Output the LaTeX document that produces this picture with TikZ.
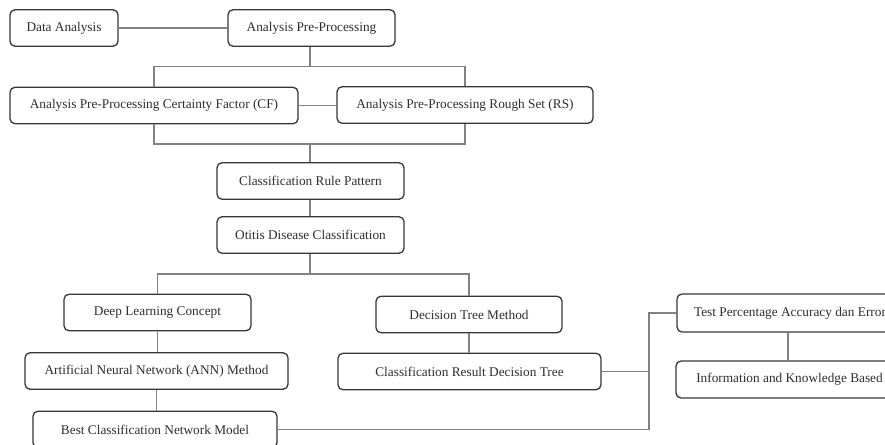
\documentclass[tikz,border=0pt]{standalone}
\usepackage{fontspec}
\setmainfont{Liberation Serif}
\usetikzlibrary{calc}
\definecolor{boxline}{HTML}{363636}
\definecolor{conn}{HTML}{828282}
\definecolor{txt}{HTML}{2E2E2E}
\begin{document}
\begin{tikzpicture}[x=1pt,y=-1pt,
  box/.style={draw=boxline,line width=1.3pt,rounded corners=5pt,fill=white,
    minimum height=36.5pt,inner sep=0pt,text=txt,
    font=\fontsize{13.3}{15}\selectfont},
  wire/.style={draw=conn,line width=1.2pt}]
\clip (0,0) rectangle (885,444);
\fill[white] (0,0) rectangle (885,444);
% nodes
\node[box,minimum width=108pt] (da) at (64,28) {Data Analysis};
\node[box,minimum width=167pt] (app) at (311.5,28) {Analysis Pre-Processing};
\node[box,minimum width=288pt] (cf) at (154,105.5) {Analysis Pre-Processing Certainty Factor (CF)};
\node[box,minimum width=256pt] (rs) at (465,105) {Analysis Pre-Processing Rough Set (RS)};
\node[box,minimum width=187pt] (crp) at (310.5,181) {Classification Rule Pattern};
\node[box,minimum width=187pt] (odc) at (310.5,235) {Otitis Disease Classification};
\node[box,minimum width=187pt] (dlc) at (157.5,312.5) {Deep Learning Concept};
\node[box,minimum width=263pt] (ann) at (156.5,371) {Artificial Neural Network (ANN) Method};
\node[box,minimum width=244pt] (best) at (155,429.5) {Best Classification Network Model};
\node[box,minimum width=186pt] (dtm) at (469,314.5) {Decision Tree Method};
\node[box,minimum width=263pt] (crdt) at (469.5,371.5) {Classification Result Decision Tree};
\node[box,minimum width=226pt,minimum height=38pt] (test) at (790,313) {Test Percentage Accuracy dan Error};
\node[box,minimum width=227pt,minimum height=37pt] (info) at (789.5,379.5) {Information and Knowledge Based};
% junctions
\coordinate (j1) at (310,66.5);
\coordinate (j2) at (310,144);
\coordinate (j3) at (310,274);
\coordinate (j4) at (649,313);
% connectors
\begin{scope}[on background layer/.try]
\end{scope}
\draw[wire] (da.east) -- (app.west);
\draw[wire] (app.south -| j1) -- (j1);
\draw[wire] (cf.north) |- (j1) -| (rs.north);
\draw[wire] (cf.east) -- (cf.east -| rs.west);
\draw[wire] (cf.south) |- (j2) -| (rs.south);
\draw[wire] (j2) -- (crp.north -| j2);
\draw[wire] (crp.south -| j2) -- (odc.north -| j2);
\draw[wire] (odc.south -| j3) -- (j3);
\draw[wire] (dlc.north) |- (j3) -| (dtm.north);
\draw[wire] (dlc.south) -- (dlc.south |- ann.north);
\draw[wire] (ann.south) -- (ann.south |- best.north);
\draw[wire] (dtm.south) -- (dtm.south |- crdt.north);
\draw[wire] (crdt.east) -- (crdt.east -| j4);
\draw[wire] (best.east) -| (j4) -- (test.west);
\draw[wire] (test.south -| 788,0) -- (info.north -| 788,0);
\end{tikzpicture}
\end{document}
